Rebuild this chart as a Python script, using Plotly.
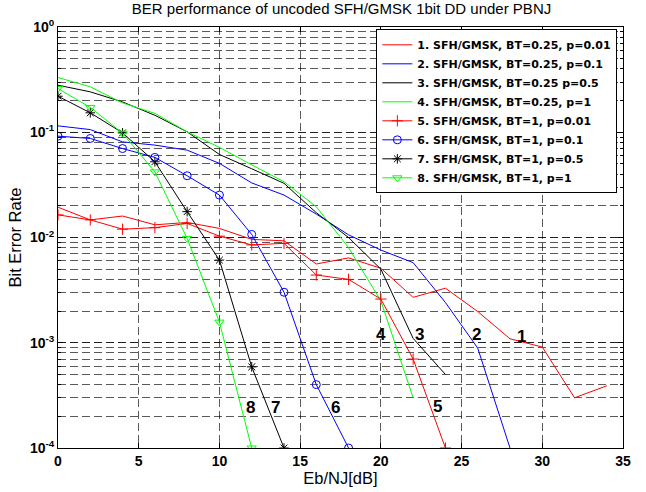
import numpy as np
import plotly.graph_objects as go

# ---------------- data ----------------
x1 = [0, 2, 4, 6, 8, 10, 12, 14, 16, 18, 20, 22, 24, 26, 28, 30, 32, 34]
y1 = [0.0194, 0.0147, 0.016, 0.0132, 0.0139, 0.0122, 0.0096, 0.0093, 0.0056, 0.0064,
      0.0051, 0.0027, 0.0033, 0.00198, 0.00109, 0.00091, 0.00030, 0.00039]
x2 = [0, 2, 4, 6, 8, 10, 12, 14, 16, 18, 20, 22, 24, 26, 28]
y2 = [0.115, 0.106, 0.081, 0.0755, 0.0676, 0.0506, 0.033, 0.0253, 0.0167, 0.0106,
      0.0076, 0.00577, 0.00241, 0.00089, 0.0001]
x3 = [0, 2, 4, 6, 8, 10, 12, 14, 16, 18, 20, 22, 24]
y3 = [0.28, 0.242, 0.194, 0.145, 0.101, 0.0615, 0.045, 0.0327, 0.0172, 0.010,
      0.0050, 0.0011, 0.0005]
x4 = [0, 2, 4, 6, 8, 10, 12, 14, 16, 18, 20, 22]
y4 = [0.331, 0.27, 0.19, 0.151, 0.101, 0.0718, 0.049, 0.0339, 0.0196, 0.008, 0.0025, 0.0003]
x5 = [0, 2, 4, 6, 8, 10, 12, 14, 16, 18, 20, 22, 24]
y5 = [0.0164, 0.0147, 0.012, 0.0124, 0.0136, 0.0103, 0.0085, 0.0088, 0.0044, 0.0040,
      0.0026, 0.0007, 0.0001]
x6 = [0, 2, 4, 6, 8, 10, 12, 14, 16, 18]
y6 = [0.0918, 0.0873, 0.070, 0.0577, 0.0386, 0.0253, 0.0107, 0.00302, 0.0004, 0.0001]
x7 = [0, 2, 4, 6, 8, 10, 12, 14]
y7 = [0.22, 0.153, 0.0987, 0.0524, 0.0176, 0.0061, 0.00059, 0.0001]
x8 = [0, 2, 4, 6, 8, 10, 12]
y8 = [0.26, 0.172, 0.098, 0.042, 0.0098, 0.00157, 0.0001]

names = [
    "1. SFH/GMSK, BT=0.25, p=0.01",
    "2. SFH/GMSK, BT=0.25, p=0.1",
    "3. SFH/GMSK, BT=0.25 p=0.5",
    "4. SFH/GMSK, BT=0.25, p=1",
    "5. SFH/GMSK, BT=1, p=0.01",
    "6. SFH/GMSK, BT=1, p=0.1",
    "7. SFH/GMSK, BT=1, p=0.5",
    "8. SFH/GMSK, BT=1, p=1",
]

# curve number labels (x in dB, y as BER)
label_text = ["1", "2", "3", "4", "5", "6", "7", "8"]
label_x = [28.7, 25.95, 22.4, 20.0, 23.5, 17.2, 13.45, 11.9]
label_y = [1.15e-3, 1.19e-3, 1.19e-3, 1.19e-3, 2.48e-4, 2.4e-4, 2.4e-4, 2.45e-4]

x_ticks = [0, 5, 10, 15, 20, 25, 30, 35]
y_ticks = [1e-4, 1e-3, 1e-2, 1e-1, 1]
y_ticktext = ["10<sup>-4</sup>", "10<sup>-3</sup>", "10<sup>-2</sup>", "10<sup>-1</sup>", "10<sup>0</sup>"]

# ---------------- figure ----------------
series = [(x1, y1), (x2, y2), (x3, y3), (x4, y4), (x5, y5), (x6, y6), (x7, y7), (x8, y8)]
colors = ["#FF0000", "#0000FF", "#000000", "#00FF00", "#FF0000", "#0000FF", "#000000", "#00FF00"]
symbols = [None, None, None, None, "cross-thin-open", "circle-open", "asterisk-open", "triangle-down-open"]

fig = go.Figure()
for (xs, ys), nm, c, s in zip(series, names, colors, symbols):
    if s is None:
        fig.add_trace(go.Scatter(x=xs, y=ys, name=nm, mode="lines",
                                 line=dict(color=c, width=1)))
    else:
        fig.add_trace(go.Scatter(x=xs, y=ys, name=nm, mode="lines+markers",
                                 line=dict(color=c, width=1),
                                 marker=dict(symbol=s, size=8, color=c,
                                             line=dict(color=c, width=1))))

for t, lx, ly in zip(label_text, label_x, label_y):
    fig.add_annotation(x=lx, y=np.log10(ly), text="<b>" + t + "</b>", showarrow=False,
                       font=dict(size=17, color="black", family="Liberation Sans, Arial"))

grid_col = "rgba(0,0,0,0.65)"
fig.update_layout(
    width=646, height=492,
    margin=dict(l=58, r=23, t=27, b=44),
    paper_bgcolor="white", plot_bgcolor="white",
    font=dict(family="Liberation Sans, Arial", color="black"),
    title=dict(text="BER performance of uncoded SFH/GMSK 1bit DD under PBNJ",
               xref="container", x=0.5287, xanchor="center",
               yref="container", y=0.993, yanchor="top",
               font=dict(size=15, color="black")),
    showlegend=True,
    legend=dict(x=0.99, xanchor="right", y=0.9945, yanchor="top",
                bgcolor="white", bordercolor="black", borderwidth=1,
                font=dict(size=11, color="black", weight="bold", family="DejaVu Sans"),
                itemwidth=30, tracegroupgap=0),
    xaxis=dict(range=[0, 35], tickvals=x_ticks, ticktext=[f"<b>{v}</b>" for v in x_ticks],
               title=dict(text="Eb/NJ[dB]", font=dict(size=16.5), standoff=0),
               showline=True, linecolor="black", linewidth=1, mirror="allticks",
               ticks="inside", ticklen=5, tickcolor="black",
               showgrid=True, gridcolor=grid_col, griddash="8px,4px", gridwidth=1,
               zeroline=False, tickfont=dict(size=14)),
    yaxis=dict(type="log", range=[-4, 0], tickvals=y_ticks, ticktext=["<b>" + t + "</b>" for t in y_ticktext],
               title=dict(text="Bit Error Rate", font=dict(size=16.5), standoff=4),
               showline=True, linecolor="black", linewidth=1, mirror="allticks",
               ticks="inside", ticklen=5, tickcolor="black",
               showgrid=True, gridcolor=grid_col, griddash="8px,4px", gridwidth=1,
               zeroline=False, tickfont=dict(size=14),
               minor=dict(dtick="D1", showgrid=True, gridcolor=grid_col, griddash="8px,4px",
                          ticks="inside", ticklen=3, tickcolor="black")),
)

fig.write_html("out.html", config={"displayModeBar": False},
               post_script="document.body.style.margin='0px';")
